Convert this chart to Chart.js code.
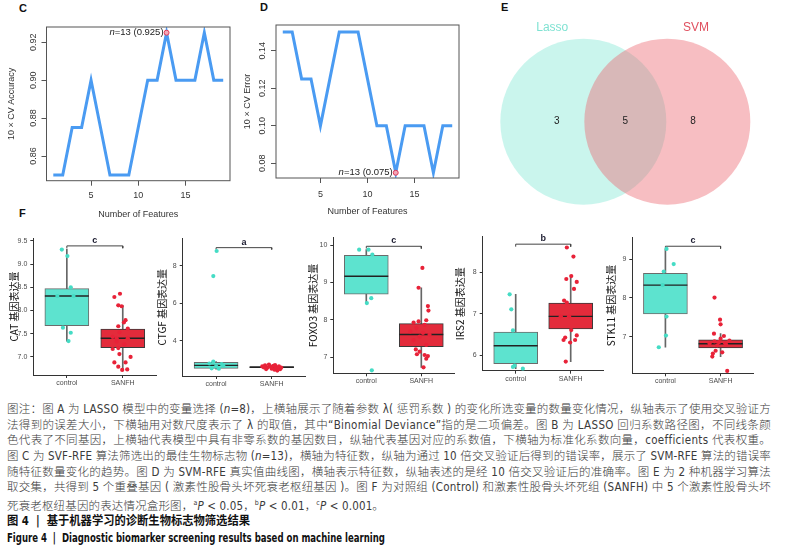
<!DOCTYPE html>
<html>
<head>
<meta charset="utf-8">
<script src="https://cdn.jsdelivr.net/npm/chart.js@4.4.1/dist/chart.umd.min.js"></script>
<style>
  body { margin: 0; width: 806px; height: 559px; background: #fff; position: relative; overflow: hidden;
         font-family: "Liberation Sans", Arial, sans-serif; }
  canvas { position: absolute; }
  .lbl { position: absolute; font-weight: bold; font-size: 11px; color: #111; }
  #caption { position: absolute; left: 7px; top: 402px; width: 764px; color: #3a3a3a;
             font-family: "Liberation Sans Narrow", "DejaVu Sans Condensed", "Noto Sans CJK SC", sans-serif;
             font-size: 11.5px; line-height: 15.7px; font-weight: 300; }
  #caption .jl { white-space: nowrap; height: 15.7px; }
  #caption .bt { white-space: nowrap; font-weight: bold; color: #111; font-size: 12px; }
  #caption .bt span { display: inline-block; transform-origin: left center; }
</style>
</head>
<body>
<div class="lbl" style="left:19px;top:2px">C</div>
<div class="lbl" style="left:260px;top:1px">D</div>
<div class="lbl" style="left:501px;top:1px">E</div>
<div class="lbl" style="left:19px;top:207px">F</div>

<canvas id="cC" width="260" height="225" style="left:0;top:0"></canvas>
<canvas id="cD" width="244" height="225" style="left:236px;top:0"></canvas>
<canvas id="cE" width="326" height="215" style="left:480px;top:0"></canvas>
<canvas id="fCAT" width="160" height="170" style="left:0;top:225px"></canvas>
<canvas id="fCTGF" width="156" height="170" style="left:150px;top:225px"></canvas>
<canvas id="fFOXO3" width="156" height="170" style="left:300px;top:225px"></canvas>
<canvas id="fIRS2" width="156" height="170" style="left:448px;top:225px"></canvas>
<canvas id="fSTK11" width="156" height="170" style="left:598px;top:225px"></canvas>

<div id="caption">
  <div class="jl"><span>图注：图 A 为 LASSO 模型中的变量选择 (<i>n</i>=8)，上横轴展示了随着参数 λ( 惩罚系数 ) 的变化所选变量的数量变化情况，纵轴表示了使用交叉验证方</span></div>
  <div class="jl"><span>法得到的误差大小，下横轴用对数尺度表示了 λ 的取值，其中“Binomial Deviance”指的是二项偏差。图 B 为 LASSO 回归系数路径图，不同线条颜</span></div>
  <div class="jl"><span>色代表了不同基因，上横轴代表模型中具有非零系数的基因数目，纵轴代表基因对应的系数值，下横轴为标准化系数向量，coefficients 代表权重。</span></div>
  <div class="jl"><span>图 C 为 SVF-RFE 算法筛选出的最佳生物标志物 (<i>n</i>=13)，横轴为特征数，纵轴为通过 10 倍交叉验证后得到的错误率，展示了 SVM-RFE 算法的错误率</span></div>
  <div class="jl"><span>随特征数量变化的趋势。图 D 为 SVM-RFE 真实值曲线图，横轴表示特征数，纵轴表述的是经 10 倍交叉验证后的准确率。图 E 为 2 种机器学习算法</span></div>
  <div class="jl"><span>取交集，共得到 5 个重叠基因 ( 激素性股骨头坏死衰老枢纽基因 )。图 F 为对照组 (Control) 和激素性股骨头坏死组 (SANFH) 中 5 个激素性股骨头坏</span></div>
  <div class="jl"><span class="nolast">死衰老枢纽基因的表达情况盒形图，<sup style="font-size:7px">a</sup><i>P</i> &lt; 0.05，<sup style="font-size:7px">b</sup><i>P</i> &lt; 0.01，<sup style="font-size:7px">c</sup><i>P</i> &lt; 0.001。</span></div>
  <div class="bt" style="margin-top:2px"><span id="t1" data-w="243">图 4 &nbsp;|&nbsp; 基于机器学习的诊断生物标志物筛选结果</span></div>
  <div class="bt" style="margin-top:1px"><span id="t2" data-w="378">Figure 4 &nbsp;|&nbsp; Diagnostic biomarker screening results based on machine learning</span></div>
</div>

<script>
// ---- panel C / D : SVM-RFE curves ----
const features = [1, 2, 3, 4, 5, 6, 7, 8, 9, 10, 11, 12, 13, 14, 15, 16, 17, 18, 19];
const cvAccuracy = [0.85, 0.85, 0.875, 0.875, 0.90, 0.875, 0.85, 0.85, 0.85, 0.875, 0.90, 0.90, 0.925, 0.90, 0.90, 0.90, 0.925, 0.90, 0.90];
const cvError = [0.15, 0.15, 0.125, 0.125, 0.10, 0.125, 0.15, 0.15, 0.15, 0.125, 0.10, 0.10, 0.075, 0.10, 0.10, 0.10, 0.075, 0.10, 0.10];
const featTicks = [5, 10, 15];
const accTicks = [0.86, 0.88, 0.90, 0.92];
const errTicks = [0.08, 0.10, 0.12, 0.14];
const bestN = 13;

// ---- panel E : Venn ----
const vennSets = ['Lasso', 'SVM'];
const vennCounts = [3, 5, 8]; // Lasso only, both, SVM only

// ---- panel F : box plots (whisker low, Q1, median, Q3, whisker high) ----
const groups = ['control', 'SANFH'];

const catCtrlBox = [7.34, 7.67, 8.31, 8.47, 9.32];
const catSanfhBox = [6.72, 7.20, 7.40, 7.60, 8.11];
const catCtrlY = [9.31, 9.17, 8.50, 7.63, 7.52, 7.34, 8.31, 8.31];
const catCtrlJ = [-0.09, 0.01, 0.07, -0.07, 0.07, 0.03, -0.17, 0.12];
const catSanfhY = [8.29, 8.36, 8.11, 8.09, 7.79, 7.74, 7.66, 7.61, 7.53, 7.43, 7.40, 7.33, 7.27, 7.19, 7.17, 7.06, 7.00, 6.88, 6.88, 6.79, 6.72, 6.73, 7.40];
const catSanfhJ = [-0.15, -0.05, -0.08, -0.02, 0.05, 0.02, -0.08, 0.09, -0.06, -0.18, 0.09, -0.11, 0.03, -0.08, -0.18, -0.06, 0.14, -0.15, 0.05, -0.08, -0.01, 0.08, -0.11];

const ctgfCtrlBox = [2.47, 2.52, 2.68, 2.84, 2.88];
const ctgfSanfhBox = [2.45, 2.55, 2.58, 2.61, 2.70];
const ctgfCtrlY = [8.80, 7.46, 2.78, 2.52, 2.88, 2.62, 2.50, 2.75, 2.66];
const ctgfCtrlJ = [0.01, -0.05, -0.12, -0.08, -0.05, 0.00, 0.05, 0.10, 0.13];
const ctgfSanfhY = [2.62, 2.68, 2.55, 2.72, 2.60, 2.50, 2.65, 2.45, 2.58, 2.40, 2.52, 2.47, 2.56, 2.48, 2.70, 2.57, 2.62];
const ctgfSanfhJ = [-0.17, -0.12, -0.08, -0.05, -0.02, 0.00, 0.03, 0.05, 0.08, 0.10, 0.12, 0.15, 0.17, -0.10, 0.06, -0.14, 0.13];

const foxo3CtrlBox = [8.45, 8.69, 9.17, 9.73, 9.88];
const foxo3SanfhBox = [6.73, 7.28, 7.61, 7.90, 8.86];
const foxo3CtrlY = [9.88, 9.88, 9.75, 8.45, 8.58, 6.65];
const foxo3CtrlJ = [-0.13, 0.04, 0.11, 0.01, 0.09, 0.10];
const foxo3SanfhY = [9.39, 8.86, 8.37, 8.25, 7.99, 7.96, 7.93, 7.87, 7.78, 7.69, 7.65, 7.60, 7.55, 7.46, 7.33, 7.21, 7.15, 7.08, 7.06, 7.03, 6.96, 6.73];
const foxo3SanfhJ = [0.02, -0.05, 0.12, 0.13, 0.09, -0.05, -0.14, 0.06, -0.09, -0.20, 0.03, 0.15, -0.03, -0.14, 0.09, -0.10, -0.03, -0.08, 0.06, 0.12, 0.09, 0.04];

const irs2CtrlBox = [5.68, 5.80, 6.23, 6.56, 7.47];
const irs2SanfhBox = [5.85, 6.64, 6.94, 7.26, 7.92];
const irs2CtrlY = [7.47, 7.11, 6.60, 5.72, 5.68, 5.75];
const irs2CtrlJ = [-0.11, -0.08, -0.05, -0.05, 0.13, -0.02];
const irs2SanfhY = [8.60, 8.38, 7.91, 7.84, 7.77, 7.60, 7.32, 7.27, 6.94, 6.94, 6.61, 6.43, 6.37, 6.48, 6.37, 6.31, 5.85];
const irs2SanfhJ = [-0.07, 0.05, 0.01, -0.08, 0.11, 0.06, -0.12, -0.07, -0.18, -0.03, 0.01, -0.10, -0.13, 0.11, 0.08, -0.01, -0.09];

const stk11CtrlBox = [6.73, 7.59, 8.33, 8.63, 9.26];
const stk11SanfhBox = [6.49, 6.71, 6.82, 6.92, 7.08];
const stk11CtrlY = [9.26, 8.87, 8.68, 8.33, 7.52, 7.03, 6.73];
const stk11CtrlJ = [0.02, 0.15, -0.03, -0.05, 0.02, 0.01, -0.12];
const stk11SanfhY = [8.01, 7.44, 7.32, 7.08, 7.02, 6.95, 6.88, 6.86, 6.84, 6.90, 6.83, 6.64, 6.57, 6.60, 6.49, 6.12, 6.80, 6.78];
const stk11SanfhJ = [-0.11, -0.01, 0.00, -0.12, 0.06, 0.00, -0.11, -0.03, 0.08, 0.16, -0.20, -0.09, -0.14, 0.03, -0.15, 0.12, 0.10, -0.06];

const lineBlue = '#4a9bf2';
const ctrlFill = '#5de3cf', ctrlPt = '#45dcc5';
const sanfhFill = '#e32b3b', sanfhPt = '#e82238';
const baseFont = '"Liberation Sans", Arial, sans-serif';

// R style: box round the plot, vertical y tick labels, best point label
const rStyle = {
    id: 'rStyle',
    afterDraw(chart, args, opts) {
        const { ctx, chartArea: a, scales: { y } } = chart;
        ctx.save();
        ctx.strokeStyle = '#555';
        ctx.lineWidth = 1;
        ctx.strokeRect(a.left, a.top, a.right - a.left, a.bottom - a.top);
        ctx.fillStyle = '#333';
        ctx.font = '9px ' + baseFont;
        ctx.textAlign = 'center';
        ctx.textBaseline = 'middle';
        y.ticks.forEach(t => {
            ctx.save();
            ctx.translate(a.left - 13, y.getPixelForValue(t.value));
            ctx.rotate(-Math.PI / 2);
            ctx.fillText(t.value.toFixed(2), 0, 0);
            ctx.restore();
        });
        // label next to the best point
        const pt = chart.getDatasetMeta(0).data[0];
        const rest = '=13 (' + opts.value + ')';
        ctx.font = '9.5px ' + baseFont;
        ctx.textAlign = 'right';
        ctx.fillStyle = '#222';
        const endX = pt.x - 3;
        ctx.fillText(rest, endX, pt.y);
        const w = ctx.measureText(rest).width;
        ctx.font = 'italic 9.5px ' + baseFont;
        ctx.fillText('n', endX - w, pt.y);
        ctx.restore();
    }
};

function makeCurve(id, ys, yTicks, yMin, yMax, yTitle, L) {
    const bi = features.indexOf(bestN);
    new Chart(document.getElementById(id), {
        type: 'line',
        data: {
            datasets: [
                { type: 'scatter', data: [{ x: bestN, y: ys[bi] }], pointRadius: 2.5,
                  pointBackgroundColor: '#f2a7b6', pointBorderColor: '#e23a58', pointBorderWidth: 1 },
                { data: features.map((f, i) => ({ x: f, y: ys[i] })), borderColor: lineBlue,
                  borderWidth: 3, pointRadius: 0, tension: 0, borderJoinStyle: 'miter' }
            ]
        },
        options: {
            responsive: false, animation: false, events: [],
            layout: { autoPadding: false, padding: { top: L.top, right: L.right, left: 0, bottom: 0 } },
            plugins: { legend: { display: false }, tooltip: { enabled: false }, rStyle: { value: ys[bi].toFixed(3) } },
            scales: {
                x: {
                    type: 'linear', min: 0.28, max: 19.72,
                    afterBuildTicks: s => { s.ticks = featTicks.map(v => ({ value: v })); },
                    afterFit: s => { s.height = L.xh; },
                    grid: { drawOnChartArea: false, tickLength: 5, color: '#555' },
                    border: { display: false },
                    ticks: { color: '#333', font: { size: 9, family: baseFont }, padding: L.xpad, maxRotation: 0 },
                    title: { display: true, text: 'Number of Features', color: '#333',
                             font: { size: 9, family: baseFont }, padding: { bottom: L.xtp, top: 0 } }
                },
                y: {
                    min: yMin, max: yMax,
                    afterBuildTicks: s => { s.ticks = yTicks.map(v => ({ value: v })); },
                    afterFit: s => { s.width = L.yw; },
                    grid: { drawOnChartArea: false, tickLength: 5, color: '#555' },
                    border: { display: false },
                    ticks: { display: false },
                    title: { display: true, text: yTitle, color: '#333',
                             font: { size: 9, family: baseFont }, padding: { top: 6.6, bottom: 0 } }
                }
            }
        },
        plugins: [rStyle]
    });
}

makeCurve('cC', cvAccuracy, accTicks, 0.847, 0.928, '10 × CV Accuracy',
    { top: 27, right: 30, xh: 44.3, yw: 46.5, xpad: 4.9, xtp: 4.6 });
makeCurve('cD', cvError, errTicks, 0.0722, 0.1537, '10 × CV Error',
    { top: 25, right: 21, xh: 47, yw: 40, xpad: 5.9, xtp: 7.9 });

// ---- Venn ----
const vennText = {
    id: 'vennText',
    afterDraw(chart) {
        const { ctx, scales: { x, y } } = chart;
        const r = chart.getDatasetMeta(0).data[0].options.radius;
        const cy = y.getPixelForValue(0);
        ctx.save();
        ctx.textAlign = 'center';
        ctx.textBaseline = 'middle';
        ctx.font = '12px ' + baseFont;
        ctx.fillStyle = '#7fe2d2';
        ctx.fillText(vennSets[0], x.getPixelForValue(-0.37), cy - r - 11);
        ctx.fillStyle = '#e0505f';
        ctx.fillText(vennSets[1], x.getPixelForValue(1.34), cy - r - 11);
        ctx.font = '10px ' + baseFont;
        ctx.fillStyle = '#222';
        [-0.317, 0.5, 1.306].forEach((p, i) => ctx.fillText(String(vennCounts[i]), x.getPixelForValue(p), cy));
        ctx.restore();
    }
};

new Chart(document.getElementById('cE'), {
    type: 'scatter',
    data: {
        datasets: [
            { label: vennSets[1], data: [{ x: 1, y: 0 }], pointRadius: 83, pointBorderWidth: 0,
              pointBackgroundColor: 'rgba(235,100,110,0.42)', clip: false },
            { label: vennSets[0], data: [{ x: 0, y: 0 }], pointRadius: 83, pointBorderWidth: 0,
              pointBackgroundColor: 'rgba(90,225,200,0.32)', clip: false }
        ]
    },
    options: {
        responsive: false, animation: false, events: [],
        layout: { autoPadding: false, padding: 0 },
        plugins: { legend: { display: false }, tooltip: { enabled: false } },
        scales: {
            x: { type: 'linear', display: false, min: -1.23, max: 2.651 },
            y: { type: 'linear', display: false, min: -1, max: 1.304 }
        }
    },
    plugins: [vennText]
});

// ---- box plots ----
const sigText = {
    id: 'sigText',
    afterDraw(chart, args, opts) {
        const { ctx, scales: { x, y } } = chart;
        ctx.save();
        ctx.font = 'bold 9px ' + baseFont;
        ctx.fillStyle = '#1a1a2e';
        ctx.textAlign = 'center';
        ctx.textBaseline = 'bottom';
        ctx.fillText(opts.text, x.getPixelForValue(1.5), y.getPixelForValue(opts.y) - 1);
        ctx.restore();
    }
};

function makeBox(id, p) {
    const cB = p.ctrlBox, sB = p.sanfhBox;
    const pts = (j, ys, g) => ys.map((v, i) => ({ x: g + j[i], y: v }));
    const L = p.layout;
    new Chart(document.getElementById(id), {
        type: 'bar',
        data: {
            datasets: [
                { type: 'scatter', data: pts(p.ctrlJ, p.ctrlY, 1), pointRadius: 2.1,
                  pointBackgroundColor: ctrlPt, pointBorderWidth: 0 },
                { type: 'scatter', data: pts(p.sanfhJ, p.sanfhY, 2), pointRadius: 2.1,
                  pointBackgroundColor: sanfhPt, pointBorderWidth: 0 },
                { type: 'scatter', data: [{ x: 1, y: cB[2] }, { x: 2, y: sB[2] }], pointStyle: 'line',
                  pointRadius: 22, pointBorderColor: '#222', pointBorderWidth: 1.4 },
                { data: [{ x: 1, y: [cB[1], cB[3]] }, { x: 2, y: [sB[1], sB[3]] }],
                  backgroundColor: [ctrlFill, sanfhFill], borderColor: ['#6b6b6b', '#3a3a3a'],
                  borderWidth: 1, borderSkipped: false, barThickness: 44, grouped: false },
                { data: [{ x: 1, y: [cB[0], cB[4]] }, { x: 2, y: [sB[0], sB[4]] }],
                  backgroundColor: '#666', barThickness: 1, grouped: false },
                { type: 'line', data: [{ x: 1, y: p.sig[1] - p.sig[2] }, { x: 1, y: p.sig[1] },
                                       { x: 2, y: p.sig[1] }, { x: 2, y: p.sig[1] - p.sig[2] }],
                  borderColor: '#444', borderWidth: 1, pointRadius: 0, tension: 0 }
            ]
        },
        options: {
            responsive: false, animation: false, events: [],
            layout: { autoPadding: false, padding: { top: L.top, right: L.right, left: 0, bottom: 0 } },
            plugins: { legend: { display: false }, tooltip: { enabled: false },
                       sigText: { text: p.sig[0], y: p.sig[1] } },
            scales: {
                x: {
                    type: 'linear', min: 0.4, max: 2.6, offset: false,
                    afterBuildTicks: s => { s.ticks = [{ value: 1 }, { value: 2 }]; },
                    afterFit: s => { s.height = L.xh; },
                    grid: { drawOnChartArea: false, tickLength: 3, color: '#333', offset: false },
                    border: { display: true, color: '#333' },
                    ticks: { color: '#4d4d4d', font: { size: 7, family: baseFont }, padding: 1, maxRotation: 0,
                             callback: v => groups[v - 1] }
                },
                y: {
                    type: 'linear', min: p.yMin, max: p.yMax,
                    afterBuildTicks: s => { s.ticks = p.yTicks.map(v => ({ value: v })); },
                    afterFit: s => { s.width = L.yw; },
                    grid: { drawOnChartArea: false, tickLength: 3, color: '#333' },
                    border: { display: true, color: '#333' },
                    ticks: { color: '#4d4d4d', font: { size: 7, family: baseFont }, padding: 3,
                             callback: v => v.toFixed(p.dec) },
                    title: { display: true, text: p.title, color: '#111',
                             font: { size: 10, family: '"Noto Sans CJK SC", sans-serif' },
                             padding: { top: L.tp, bottom: 0 } }
                }
            }
        },
        plugins: [sigText]
    });
}

makeBox('fCAT', { title: 'CAT 基因表达量', ctrlBox: catCtrlBox, sanfhBox: catSanfhBox,
    ctrlY: catCtrlY, ctrlJ: catCtrlJ, sanfhY: catSanfhY, sanfhJ: catSanfhJ,
    yMin: 6.61, yMax: 9.56, yTicks: [7.0, 7.5, 8.0, 8.5, 9.0, 9.5], dec: 1, sig: ['c', 9.39, 0.05],
    layout: { top: 13, right: 3.7, xh: 20, yw: 33.3, tp: 8 } });
makeBox('fCTGF', { title: 'CTGF 基因表达量', ctrlBox: ctgfCtrlBox, sanfhBox: ctgfSanfhBox,
    ctrlY: ctgfCtrlY, ctrlJ: ctgfCtrlJ, sanfhY: ctgfSanfhY, sanfhJ: ctgfSanfhJ,
    yMin: 2.11, yMax: 9.48, yTicks: [4, 6, 8], dec: 0, sig: ['a', 8.98, 0.1],
    layout: { top: 13.3, right: 0.9, xh: 19, yw: 32.7, tp: 6.7 } });
makeBox('fFOXO3', { title: 'FOXO3 基因表达量', ctrlBox: foxo3CtrlBox, sanfhBox: foxo3SanfhBox,
    ctrlY: foxo3CtrlY, ctrlJ: foxo3CtrlJ, sanfhY: foxo3SanfhY, sanfhJ: foxo3SanfhJ,
    yMin: 6.57, yMax: 10.2, yTicks: [7, 8, 9, 10], dec: 0, sig: ['c', 9.97, 0.06],
    layout: { top: 12.7, right: 1.7, xh: 21.7, yw: 33.3, tp: 7.3 } });
makeBox('fIRS2', { title: 'IRS2 基因表达量', ctrlBox: irs2CtrlBox, sanfhBox: irs2SanfhBox,
    ctrlY: irs2CtrlY, ctrlJ: irs2CtrlJ, sanfhY: irs2SanfhY, sanfhJ: irs2SanfhJ,
    yMin: 5.63, yMax: 8.86, yTicks: [6, 7, 8], dec: 0, sig: ['b', 8.68, 0.06],
    layout: { top: 11.7, right: 0.3, xh: 24.3, yw: 34.7, tp: 6.7 } });
makeBox('fSTK11', { title: 'STK11 基因表达量', ctrlBox: stk11CtrlBox, sanfhBox: stk11SanfhBox,
    ctrlY: stk11CtrlY, ctrlJ: stk11CtrlJ, sanfhY: stk11SanfhY, sanfhJ: stk11SanfhJ,
    yMin: 6.06, yMax: 9.55, yTicks: [7, 8, 9], dec: 0, sig: ['c', 9.33, 0.06],
    layout: { top: 12.7, right: 0.3, xh: 21.7, yw: 34.3, tp: 7.7 } });

// stretch each full caption line to the text block width, like the justified print layout
const capW = 764;
document.querySelectorAll('#caption .jl span').forEach(sp => {
    if (sp.classList.contains('nolast')) {
        sp.style.letterSpacing = '0.15px';
        return;
    }
    const w = sp.getBoundingClientRect().width;
    const n = sp.textContent.length;
    sp.style.letterSpacing = ((capW - w) / n) + 'px';
});
// the bold title lines are set in a condensed face in print
document.querySelectorAll('#caption .bt span').forEach(sp => {
    const w = sp.getBoundingClientRect().width;
    sp.style.transform = 'scaleX(' + (Number(sp.dataset.w) / w) + ')';
});
</script>
</body>
</html>
